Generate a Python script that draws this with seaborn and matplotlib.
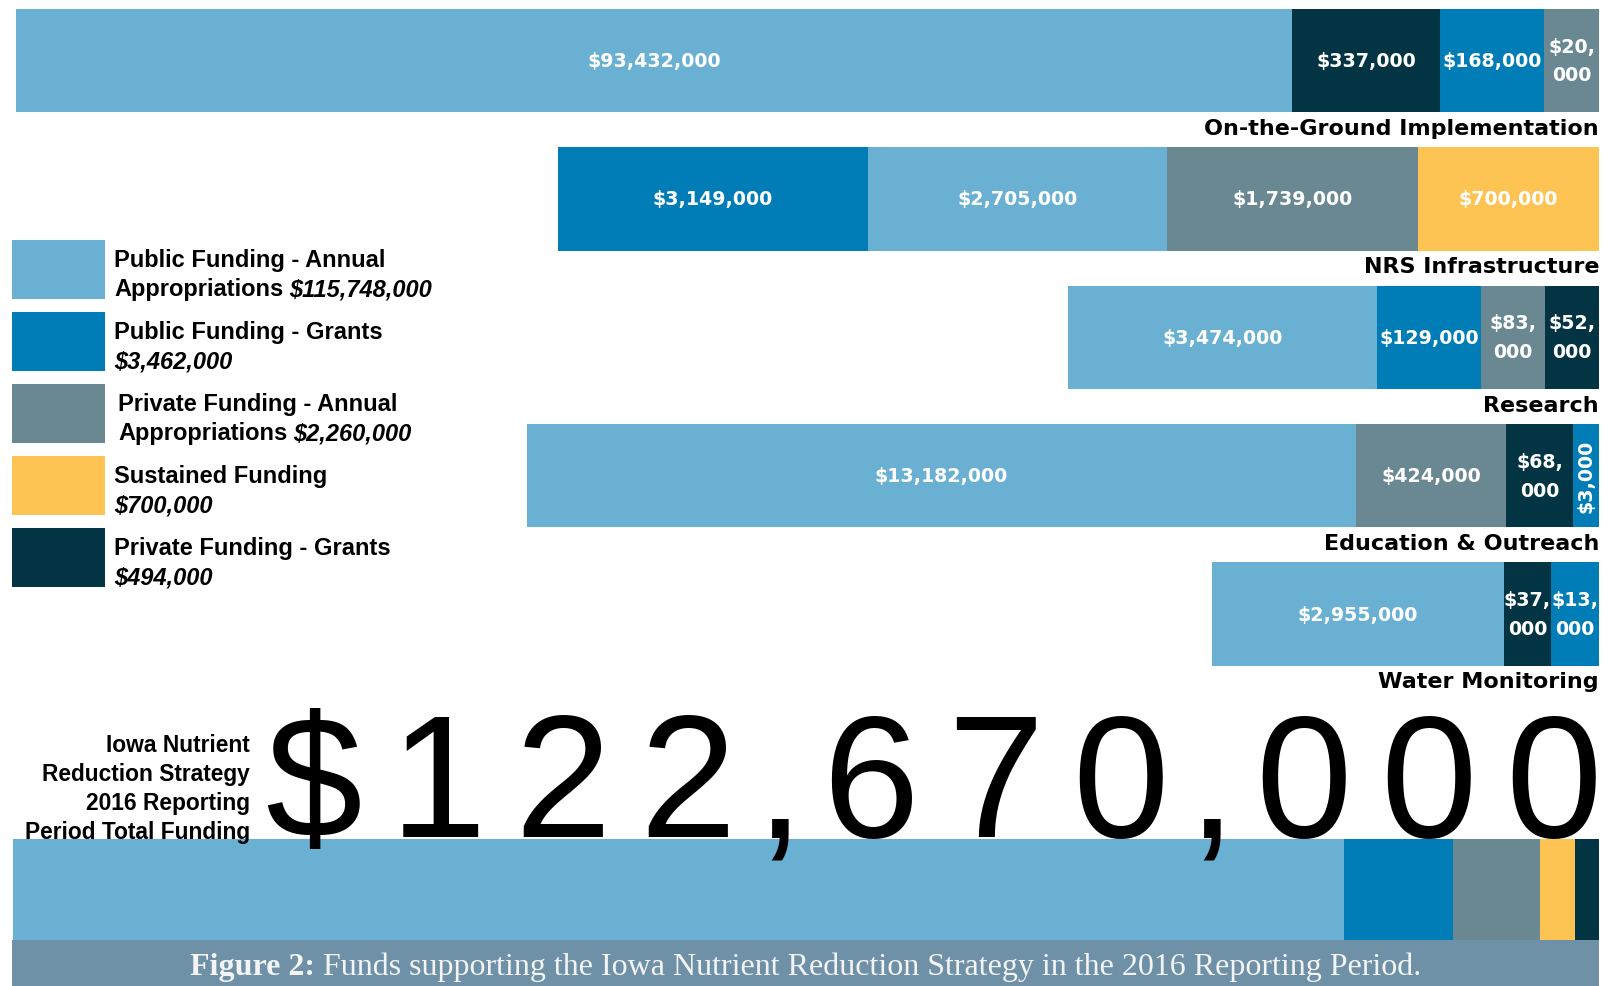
import matplotlib.pyplot as plt
import numpy as np
import seaborn as sns
from matplotlib.patches import Rectangle

W, H = 1610, 987

# --- data read off the infographic -------------------------------------------
# segments are listed left to right; "lengths" are the drawn bar lengths (px),
# the infographic does not scale them to the dollar values
SOURCE_COLORS = {
    "annual": "#69B0D3",
    "grants": "#007CB7",
    "private_annual": "#6A8892",
    "sustained": "#FDC453",
    "private_grants": "#033443",
}

row_names = [
    "On-the-Ground Implementation",
    "NRS Infrastructure",
    "Research",
    "Education & Outreach",
    "Water Monitoring",
    "",
    "Total",
]

ground_sources = ["annual", "private_grants", "grants", "private_annual"]
ground_values = [93432000, 337000, 168000, 20000]
ground_lengths = [1276, 148, 104, 55]

nrs_sources = ["grants", "annual", "private_annual", "sustained"]
nrs_values = [3149000, 2705000, 1739000, 700000]
nrs_lengths = [310, 299, 251, 181]

research_sources = ["annual", "grants", "private_annual", "private_grants"]
research_values = [3474000, 129000, 83000, 52000]
research_lengths = [309, 104, 64, 54]

education_sources = ["annual", "private_annual", "private_grants", "grants"]
education_values = [13182000, 424000, 68000, 3000]
education_lengths = [829, 150, 67, 26]

water_sources = ["annual", "private_grants", "grants"]
water_values = [2955000, 37000, 13000]
water_lengths = [292, 47, 48]

total_sources = ["annual", "grants", "private_annual", "sustained", "private_grants"]
total_values = [115748000, 3462000, 2260000, 700000, 494000]
total_lengths = [1331, 109, 87, 35, 24]

legend_sources = ["annual", "grants", "private_annual", "sustained", "private_grants"]
legend_names = [
    ("Public Funding - Annual", "Appropriations"),
    ("Public Funding - Grants", ""),
    ("Private Funding - Annual", "Appropriations"),
    ("Sustained Funding", ""),
    ("Private Funding - Grants", ""),
]
legend_totals = [115748000, 3462000, 2260000, 700000, 494000]

total_funding = "$122,670,000"
total_note = ["Iowa Nutrient", "Reduction Strategy", "2016 Reporting", "Period Total Funding"]
caption_bold = "Figure 2:"
caption_rest = " Funds supporting the Iowa Nutrient Reduction Strategy in the 2016 Reporting Period."

# --- layout -------------------------------------------------------------------
RIGHT_EDGE = 1599          # px where every bar ends
ROW0_CENTER = 61.5         # px
ROW_STEP = 138.4           # px between rows
BAR_WIDTH = 0.746          # fraction of row step
VALUE_FONT = dict(family="DejaVu Sans", fontweight="bold", fontsize=13.7, color="white")
CAT_FONT = dict(family="DejaVu Sans", fontweight="bold", fontsize=16, color="black")
SANS = "Liberation Sans"
LEGEND_SIZE = 17


def fx(px):
    return px / W


def fy(py):
    return 1 - py / H


def money(v):
    return f"${v:,}"


def draw_row(ax, name, sources, values, lengths, with_labels=True):
    """Stack the segments from the right edge: widest extent first, then overlay."""
    idx = row_names.index(name)
    extents = np.cumsum(lengths[::-1])[::-1]
    for src, ext in zip(sources, extents):
        sns.barplot(
            x=[ext], y=[name], order=row_names, orient="h",
            color=SOURCE_COLORS[src], saturation=1, width=BAR_WIDTH,
            linewidth=0, ax=ax,
        )
    if not with_labels:
        return
    mids = extents - np.array(lengths) / 2
    for v, length, mid in zip(values, lengths, mids):
        label, rot = money(v), 0
        if length < 35:
            rot = 90
        elif length < 70:
            label = label.replace(",", ",\n", 1)
        ax.text(mid, idx, label, ha="center", va="center", rotation=rot,
                linespacing=1.65, **VALUE_FONT)
    ax.text(0, idx + 0.53, name, ha="right", va="baseline", **CAT_FONT)


def main():
    sns.set_theme(style="white")
    plt.rcParams["text.color"] = "black"
    fig = plt.figure(figsize=(W / 100, H / 100), dpi=100)
    fig.patch.set_facecolor("white")
    ax = fig.add_axes([0, 0, 1, 1])

    draw_row(ax, row_names[0], ground_sources, ground_values, ground_lengths)
    draw_row(ax, row_names[1], nrs_sources, nrs_values, nrs_lengths)
    draw_row(ax, row_names[2], research_sources, research_values, research_lengths)
    draw_row(ax, row_names[3], education_sources, education_values, education_lengths)
    draw_row(ax, row_names[4], water_sources, water_values, water_lengths)
    draw_row(ax, row_names[6], total_sources, total_values, total_lengths, with_labels=False)

    ax.set_xlim(RIGHT_EDGE, RIGHT_EDGE - W)
    ax.set_ylim((H - ROW0_CENTER) / ROW_STEP, -ROW0_CENTER / ROW_STEP)
    ax.axis("off")

    renderer = fig.canvas.get_renderer()

    # legend
    for i, (src, (line1, line2), amount) in enumerate(zip(legend_sources, legend_names, legend_totals)):
        top = 241 + 72 * i
        fig.add_artist(Rectangle((fx(12), fy(top + 59)), fx(93), 59 / H,
                                 transform=fig.transFigure, color=SOURCE_COLORS[src], lw=0))
        tx = 118 if src == "private_annual" else 114
        fig.text(fx(tx), fy(top + 26), line1, ha="left", va="baseline",
                 family=SANS, fontweight="bold", fontsize=LEGEND_SIZE)
        x2 = tx
        if line2:
            t = fig.text(fx(tx), fy(top + 55), line2, ha="left", va="baseline",
                         family=SANS, fontweight="bold", fontsize=LEGEND_SIZE)
            x2 = tx + t.get_window_extent(renderer).width + 6
        fig.text(fx(x2), fy(top + 55), money(amount), ha="left", va="baseline",
                 family=SANS, fontweight="bold", fontstyle="italic", fontsize=LEGEND_SIZE)

    # total funding note
    for i, line in enumerate(total_note):
        fig.text(fx(250), fy(752 + 29 * i), line, ha="right", va="baseline",
                 family=SANS, fontweight="bold", fontsize=16.4)

    # the big total, tracked out character by character
    cx = 313
    prev = None
    for ch in total_funding:
        if prev is not None:
            cx += 91.3 if "," in (ch, prev) else 125
        fig.text(fx(cx), fy(837), ch, ha="center", va="baseline",
                 family=SANS, fontsize=125, color="black", zorder=5)
        prev = ch

    # caption band
    fig.add_artist(Rectangle((fx(12), 0), fx(RIGHT_EDGE - 12), 46.3 / H,
                             transform=fig.transFigure, color="#6E91A8", lw=0, zorder=1))
    t1 = fig.text(0, fy(975), caption_bold, ha="left", va="baseline",
                  family="Liberation Serif", fontweight="bold", fontsize=23, color="#F4F4F4")
    t2 = fig.text(0, fy(975), caption_rest, ha="left", va="baseline",
                  family="Liberation Serif", fontsize=23, color="#F4F4F4")
    w1 = t1.get_window_extent(renderer).width
    w2 = t2.get_window_extent(renderer).width
    start = (12 + RIGHT_EDGE) / 2 - (w1 + w2) / 2
    t1.set_x(fx(start))
    t2.set_x(fx(start + w1))

    fig.savefig("out.png", dpi=100, facecolor="white")
    plt.close(fig)


if __name__ == "__main__":
    main()
